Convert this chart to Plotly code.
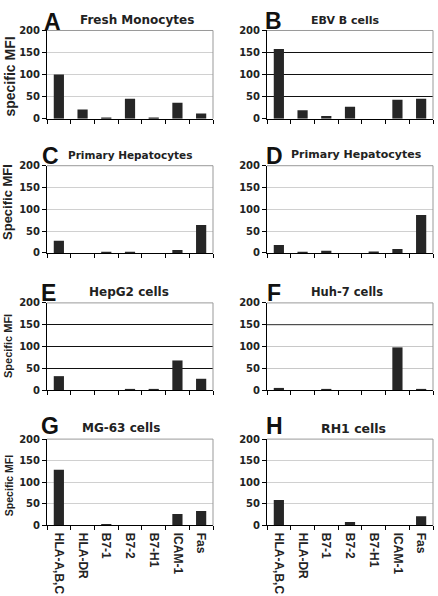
import plotly.graph_objects as go

# ---------------- data ----------------
categories = ["HLA-A,B,C", "HLA-DR", "B7-1", "B7-2", "B7-H1", "ICAM-1", "Fas"]
panel_letters = ["A", "B", "C", "D", "E", "F", "G", "H"]
panel_titles = ["Fresh Monocytes", "EBV B cells", "Primary Hepatocytes", "Primary Hepatocytes",
                "HepG2 cells", "Huh-7 cells", "MG-63 cells", "RH1 cells"]
mono = [100, 21, 1, 45, 2, 36, 12]
ebv_b = [158, 19, 6, 27, 0, 43, 45]
hep_c = [28, 0, 2, 2, 0, 7, 64]
hep_d = [18, 1, 5, 0, 3, 9, 87]
hepg2 = [32, 0, 0, 2, 1, 68, 26]
huh7 = [5, 0, 1, 0, 0, 98, 1]
mg63 = [129, 0, 1, 0, 0, 26, 33]
rh1 = [59, 0, 0, 8, 0, 0, 21]
series = [mono, ebv_b, hep_c, hep_d, hepg2, huh7, mg63, rh1]
y_ticks = [0, 50, 100, 150, 200]
y_titles = ["specific MFI", None, "Specific MFI", None, "Specific MFI", None, "Specific MFI", None]

# ---------------- layout (pixels) ----------------
W, H = 438, 596
def fx(p): return p / W
def fy(p): return 1 - p / H

rows_px = [(25, 115), (163, 252), (303, 392), (442, 530)]
cols_px = [(47, 213), (267, 433)]
grid_colors = ["#d0d0d0", "#111111", "#d0d0d0", "#d0d0d0", "#111111", "#c8c8c8", "#d0d0d0", "#d0d0d0"]
title_sizes = [12, 11, 10.5, 11, 12, 11.5, 12, 12.5]
title_cx = [137, 345, 130, 356, 129, 347, 121, 353]
title_cy = [14, 15, 152, 152, 292, 292, 431, 431]
letter_x = [42, 263, 40, 264, 39, 265, 39, 264]
letter_cy = [16, 15, 153, 153, 293, 293, 429, 429]
ytitle_pos = [(10, 72, 14), None, (8, 200, 13), None, (8, 347, 11), None, (9, 490, 10.5)]

BAR = "#262626"
tick_font = dict(family="DejaVu Sans", size=10, color="#222", weight="bold")
xlab_font = dict(family="Liberation Sans", size=12, color="#222", weight="bold")

fig = go.Figure()
layout = dict(width=W, height=H, margin=dict(l=0, r=0, t=0, b=0),
              paper_bgcolor="white", plot_bgcolor="white", showlegend=False,
              bargap=0.57)
shapes = []
annotations = []

for i, vals in enumerate(series):
    r, c = divmod(i, 2)
    ax = "" if i == 0 else str(i + 1)
    fig.add_trace(go.Bar(x=categories, y=vals, xaxis="x" + ax, yaxis="y" + ax,
                         marker=dict(color=BAR, line=dict(width=0)), hoverinfo="x+y"))
    x0, x1 = cols_px[c]
    y0, y1 = rows_px[r]
    layout["xaxis" + ax] = dict(domain=[fx(x0), fx(x1)], anchor="y" + ax, type="category",
                                range=[-0.5, 6.5], tickson="boundaries", ticks="outside",
                                ticklen=4, tickcolor="#000", tickwidth=1, showline=True,
                                linecolor="#000", linewidth=1, showgrid=False,
                                showticklabels=(r == 3), tickangle=90, tickfont=xlab_font,
                                ticklabelstandoff=4)
    layout["yaxis" + ax] = dict(domain=[fy(y1), fy(y0)], anchor="x" + ax, range=[0, 200],
                                tickvals=y_ticks, ticks="outside", ticklen=4, tickcolor="#000",
                                showline=True, linecolor="#000", linewidth=1, showgrid=True,
                                gridcolor=grid_colors[i], gridwidth=1, zeroline=False,
                                tickfont=tick_font)
    # grey frame top / right
    shapes.append(dict(type="line", xref="x" + ax + " domain", yref="y" + ax + " domain",
                       x0=0, x1=1, y0=1, y1=1, line=dict(color="#999", width=1)))
    shapes.append(dict(type="line", xref="x" + ax + " domain", yref="y" + ax + " domain",
                       x0=1, x1=1, y0=0, y1=1, line=dict(color="#999", width=1)))
    # panel letter
    annotations.append(dict(text=panel_letters[i], xref="paper", yref="paper",
                            x=fx(letter_x[i]), y=fy(letter_cy[i]), xanchor="left", yanchor="middle",
                            showarrow=False, font=dict(family="Liberation Sans", size=23,
                                                       color="#111", weight="bold")))
    # panel title
    annotations.append(dict(text=panel_titles[i], xref="paper", yref="paper",
                            x=fx(title_cx[i]), y=fy(title_cy[i]), xanchor="center", yanchor="middle",
                            showarrow=False, font=dict(family="DejaVu Sans", size=title_sizes[i],
                                                       color="#222", weight="bold")))
    if y_titles[i]:
        px_, py_, fs = ytitle_pos[i]
        annotations.append(dict(text=y_titles[i], xref="paper", yref="paper",
                                x=fx(px_), y=fy(py_), xanchor="center", yanchor="middle",
                                textangle=-90, showarrow=False,
                                font=dict(family="Liberation Sans", size=fs, color="#222",
                                          weight="bold")))

# Panel F: 150 gridline is dark
shapes.append(dict(type="line", xref="x6 domain", yref="y6", x0=0, x1=1, y0=150, y1=150,
                   line=dict(color="#333", width=1)))

layout["shapes"] = shapes
layout["annotations"] = annotations
fig.update_layout(**layout)
fig.write_html("out.html")
